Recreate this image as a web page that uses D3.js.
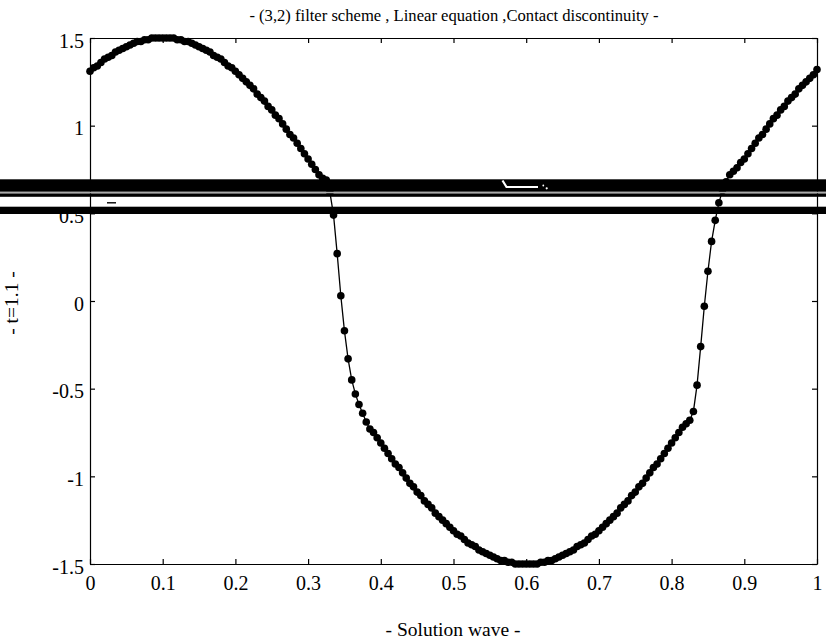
<!DOCTYPE html>
<html>
<head>
<meta charset="utf-8">
<script src="https://cdn.jsdelivr.net/npm/d3@7"></script>
<style>
  html, body { margin: 0; padding: 0; background: #fff; }
  svg text { font-family: "Liberation Serif", "DejaVu Serif", serif; fill: #000; }
</style>
</head>
<body>
<div id="chart"></div>
<script>
// grid points of the solution (x) and values (u at t=1.1)
const xs = [
  0.000, 0.005, 0.010, 0.015, 0.020, 0.025, 0.030, 0.035, 0.040, 0.045,
  0.050, 0.055, 0.060, 0.065, 0.070, 0.075, 0.080, 0.085, 0.090, 0.095,
  0.100, 0.105, 0.110, 0.115, 0.120, 0.125, 0.130, 0.135, 0.140, 0.145,
  0.150, 0.155, 0.160, 0.165, 0.170, 0.175, 0.180, 0.185, 0.190, 0.195,
  0.200, 0.205, 0.210, 0.215, 0.220, 0.225, 0.230, 0.235, 0.240, 0.245,
  0.250, 0.255, 0.260, 0.265, 0.270, 0.275, 0.280, 0.285, 0.290, 0.295,
  0.300, 0.305, 0.310, 0.315, 0.320, 0.325, 0.330, 0.335, 0.340, 0.345,
  0.350, 0.355, 0.360, 0.365, 0.370, 0.375, 0.380, 0.385, 0.390, 0.395,
  0.400, 0.405, 0.410, 0.415, 0.420, 0.425, 0.430, 0.435, 0.440, 0.445,
  0.450, 0.455, 0.460, 0.465, 0.470, 0.475, 0.480, 0.485, 0.490, 0.495,
  0.500, 0.505, 0.510, 0.515, 0.520, 0.525, 0.530, 0.535, 0.540, 0.545,
  0.550, 0.555, 0.560, 0.565, 0.570, 0.575, 0.580, 0.585, 0.590, 0.595,
  0.600, 0.605, 0.610, 0.615, 0.620, 0.625, 0.630, 0.635, 0.640, 0.645,
  0.650, 0.655, 0.660, 0.665, 0.670, 0.675, 0.680, 0.685, 0.690, 0.695,
  0.700, 0.705, 0.710, 0.715, 0.720, 0.725, 0.730, 0.735, 0.740, 0.745,
  0.750, 0.755, 0.760, 0.765, 0.770, 0.775, 0.780, 0.785, 0.790, 0.795,
  0.800, 0.805, 0.810, 0.815, 0.820, 0.825, 0.830, 0.835, 0.840, 0.845,
  0.850, 0.855, 0.860, 0.865, 0.870, 0.875, 0.880, 0.885, 0.890, 0.895,
  0.900, 0.905, 0.910, 0.915, 0.920, 0.925, 0.930, 0.935, 0.940, 0.945,
  0.950, 0.955, 0.960, 0.965, 0.970, 0.975, 0.980, 0.985, 0.990, 0.995,
  1.000
];
const us = [
  1.31, 1.33, 1.34, 1.36, 1.38, 1.39, 1.40, 1.42, 1.43, 1.44,
  1.45, 1.46, 1.47, 1.48, 1.48, 1.49, 1.49, 1.50, 1.50, 1.50,
  1.50, 1.50, 1.50, 1.50, 1.49, 1.49, 1.48, 1.48, 1.47, 1.46,
  1.45, 1.44, 1.43, 1.42, 1.40, 1.39, 1.38, 1.36, 1.34, 1.33,
  1.31, 1.29, 1.27, 1.25, 1.23, 1.21, 1.18, 1.16, 1.14, 1.11,
  1.09, 1.06, 1.04, 1.01, 0.98, 0.95, 0.93, 0.90, 0.87, 0.84,
  0.81, 0.78, 0.75, 0.72, 0.70, 0.69, 0.62, 0.49, 0.27, 0.03,
  -0.17, -0.33, -0.45, -0.53, -0.59, -0.64, -0.69, -0.73, -0.75, -0.78,
  -0.81, -0.84, -0.87, -0.90, -0.93, -0.95, -0.98, -1.01, -1.04, -1.06,
  -1.09, -1.11, -1.14, -1.16, -1.18, -1.21, -1.23, -1.25, -1.27, -1.29,
  -1.31, -1.33, -1.34, -1.36, -1.38, -1.39, -1.40, -1.42, -1.43, -1.44,
  -1.45, -1.46, -1.47, -1.48, -1.48, -1.49, -1.49, -1.50, -1.50, -1.50,
  -1.50, -1.50, -1.50, -1.50, -1.49, -1.49, -1.48, -1.48, -1.47, -1.46,
  -1.45, -1.44, -1.43, -1.42, -1.40, -1.39, -1.38, -1.36, -1.34, -1.33,
  -1.31, -1.29, -1.27, -1.25, -1.23, -1.21, -1.18, -1.16, -1.14, -1.11,
  -1.09, -1.06, -1.04, -1.01, -0.98, -0.95, -0.93, -0.90, -0.87, -0.84,
  -0.81, -0.78, -0.75, -0.72, -0.70, -0.68, -0.63, -0.48, -0.26, -0.03,
  0.17, 0.34, 0.46, 0.56, 0.63, 0.68, 0.72, 0.74, 0.76, 0.79,
  0.81, 0.84, 0.87, 0.90, 0.93, 0.95, 0.98, 1.01, 1.04, 1.06,
  1.09, 1.11, 1.14, 1.16, 1.18, 1.21, 1.23, 1.25, 1.27, 1.29,
  1.32
];

const xTicks = [0, 0.1, 0.2, 0.3, 0.4, 0.5, 0.6, 0.7, 0.8, 0.9, 1];
const yTicks = [-1.5, -1, -0.5, 0, 0.5, 1, 1.5];

const title = "- (3,2) filter scheme , Linear equation ,Contact discontinuity -";
const xLabel = "- Solution wave -";
const yLabel = "- t=1.1 -";

const width = 826;
const height = 644;
const margin = { top: 38, right: 9, bottom: 80, left: 90 };

const svg = d3.select("#chart")
    .append("svg")
    .attr("width", width)
    .attr("height", height)
    .attr("viewBox", `0 0 ${width} ${height}`);

svg.append("rect")
    .attr("width", width)
    .attr("height", height)
    .attr("fill", "#fff");

const x = d3.scaleLinear()
    .domain([0, 1])
    .range([margin.left, width - margin.right]);

const y = d3.scaleLinear()
    .domain([-1.5, 1.5])
    .range([height - margin.bottom, margin.top]);

const fmt = d => String(d);

// axes, MATLAB style: ticks point inward, box all round
const styleAxis = g => {
    g.selectAll("path.domain").attr("stroke", "#000").attr("stroke-width", 1.2);
    g.selectAll(".tick line").attr("stroke", "#000").attr("stroke-width", 1.2);
    g.selectAll(".tick text")
        .style("font-family", '"Liberation Serif", serif')
        .style("font-size", "20px")
        .attr("fill", "#000");
};

svg.append("g")
    .attr("transform", `translate(0,${y(-1.5)})`)
    .call(d3.axisBottom(x).tickValues(xTicks).tickSize(-5).tickSizeOuter(0).tickPadding(12).tickFormat(fmt))
    .call(styleAxis);

svg.append("g")
    .attr("transform", `translate(0,${y(1.5)})`)
    .call(d3.axisTop(x).tickValues(xTicks).tickSize(-5).tickSizeOuter(0).tickFormat(""))
    .call(styleAxis);

svg.append("g")
    .attr("transform", `translate(${x(0)},0)`)
    .call(d3.axisLeft(y).tickValues(yTicks).tickSize(-5).tickSizeOuter(0).tickPadding(6).tickFormat(fmt))
    .call(styleAxis)
    .call(g => g.selectAll(".tick text").attr("dy", "0.45em"));

svg.append("g")
    .attr("transform", `translate(${x(1)},0)`)
    .call(d3.axisRight(y).tickValues(yTicks).tickSize(-5).tickSizeOuter(0).tickFormat(""))
    .call(styleAxis);

// the solution
const points = xs.map((v, i) => [v, us[i]]);

svg.append("path")
    .datum(points)
    .attr("fill", "none")
    .attr("stroke", "#000")
    .attr("stroke-width", 1.3)
    .attr("d", d3.line().x(d => x(d[0])).y(d => y(d[1])));

svg.append("g")
    .selectAll("circle")
    .data(points)
    .join("circle")
    .attr("cx", d => x(d[0]))
    .attr("cy", d => y(d[1]))
    .attr("r", 3.8)
    .attr("fill", "#000");

// texts
svg.append("text")
    .attr("x", 454)
    .attr("y", 21)
    .attr("text-anchor", "middle")
    .style("font-size", "16.6px")
    .text(title);

svg.append("text")
    .attr("x", 453)
    .attr("y", 636)
    .attr("text-anchor", "middle")
    .style("font-size", "19.5px")
    .text(xLabel);

svg.append("text")
    .attr("transform", `translate(18,${(y(1.5) + y(-1.5)) / 2 + 2}) rotate(-90)`)
    .attr("text-anchor", "middle")
    .style("font-size", "19.5px")
    .text(yLabel);

// scanner streaks running across the page
const streaks = [
    { y0: 179.3, y1: 191.8, fill: "#000" },
    { y0: 191.8, y1: 193.5, fill: "#aaa" },
    { y0: 193.5, y1: 196.8, fill: "#000" },
    { y0: 206.7, y1: 214.0, fill: "#000" },
];
svg.append("g")
    .selectAll("rect")
    .data(streaks)
    .join("rect")
    .attr("x", 0)
    .attr("width", width)
    .attr("y", d => d.y0)
    .attr("height", d => d.y1 - d.y0)
    .attr("fill", d => d.fill);

// legend remains showing through
svg.append("path")
    .attr("d", "M502.5,180.5 L506.5,187 L538,187")
    .attr("fill", "none")
    .attr("stroke", "#fff")
    .attr("stroke-width", 2.2);
svg.append("circle").attr("cx", 543.3).attr("cy", 185.5).attr("r", 0.9).attr("fill", "#fff");
svg.append("circle").attr("cx", 546.7).attr("cy", 188.3).attr("r", 1.1).attr("fill", "#fff");
svg.append("line")
    .attr("x1", 107).attr("x2", 116)
    .attr("y1", 202.8).attr("y2", 202.8)
    .attr("stroke", "#000")
    .attr("stroke-width", 1.4);
</script>
</body>
</html>
